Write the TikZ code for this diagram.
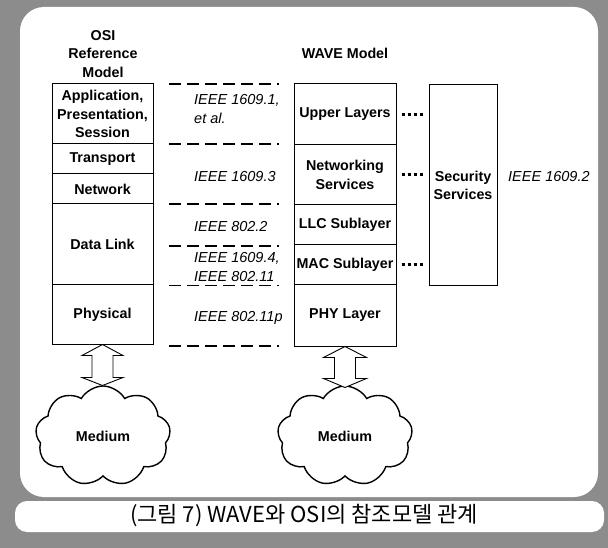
\documentclass[tikz,border=0pt]{standalone}
\usepackage{fontspec}
\setmainfont{Liberation Sans}
\newfontfamily\krfont{Noto Sans CJK KR}
\usetikzlibrary{shapes.symbols}
\begin{document}
\begin{tikzpicture}[x=1pt,y=-1pt,
  lbl/.style={font=\bfseries\fontsize{14.3}{18.5}\selectfont, align=center, inner sep=0pt},
  ieee/.style={font=\itshape\fontsize{14.5}{19}\selectfont, align=left, inner sep=0pt, anchor=west},
  osil/.style={lbl, draw, line width=1pt, minimum width=101pt},
  wavel/.style={lbl, draw, line width=1pt, minimum width=102pt},
  sepline/.style={line width=1.4pt, dash pattern=on 12pt off 6pt},
  dotconn/.style={line width=3pt, dash pattern=on 3pt off 3pt, shorten <=5pt, shorten >=3pt},
  medium/.style={cloud, cloud puffs=9, cloud puff arc=120, draw, line width=1.4pt, minimum width=135pt, minimum height=100pt, lbl},
  dblarrow/.style={draw, line width=0.9pt, fill=white}
]
\useasboundingbox (0,0) rectangle (608,548);
% frame
\fill[black!45] (0,0) rectangle (608,548);
\fill[white, rounded corners=24pt] (20,7) rectangle (598,497);
\fill[white, rounded corners=12pt] (15,501) rectangle (604,532);

% titles
\node[lbl] (osititle) at (103,54) {OSI\\Reference\\Model};
\node[lbl] (wavetitle) at (345,53) {WAVE Model};

% OSI stack
\node[osil, minimum height=60pt] (app) at (102.5,114) {Application,\\Presentation,\\Session};
\node[osil, minimum height=30pt] (trans) at (102.5,159) {Transport};
\node[osil, minimum height=30pt] (net) at (102.5,189) {Network};
\node[osil, minimum height=81pt] (dl) at (102.5,244.5) {Data Link};
\node[osil, minimum height=59pt] (phy) at (102.5,314.5) {Physical};

% WAVE stack
\node[wavel, minimum height=61pt] (upper) at (345,114.5) {Upper Layers};
\node[wavel, minimum height=60pt] (netw) at (345,175) {Networking\\Services};
\node[wavel, minimum height=40pt] (llc) at (345,225) {LLC Sublayer};
\node[wavel, minimum height=40pt] (mac) at (345,265) {MAC Sublayer};
\node[wavel, minimum height=61pt] (wphy) at (345,315.5) {PHY Layer};

% Security
\node[lbl, draw, line width=1pt, minimum width=68pt, minimum height=201pt] (sec) at (463,185.5) {Security\\Services};
\node[ieee] (i16092) at (508,177) {IEEE 1609.2};

% dotted links
\draw[dotconn] (upper.east) -- (sec.west |- upper.east);
\draw[dotconn] (netw.east) -- (sec.west |- netw.east);
\draw[dotconn] (mac.east) -- (sec.west |- mac.east);

% dashed separators
\foreach \yy in {84,144,204,246,285.5,346}
  \draw[sepline] (169,\yy) -- (279,\yy);

% IEEE labels
\node[ieee] (i16091) at (194,109) {IEEE 1609.1,\\et al.};
\node[ieee] (i16093) at (194,177) {IEEE 1609.3};
\node[ieee] (i8022) at (194,227) {IEEE 802.2};
\node[ieee] (i16094) at (194,267) {IEEE 1609.4,\\IEEE 802.11};
\node[ieee] (i80211p) at (194,318) {IEEE 802.11p};

% clouds
\node[medium] (med1) at (103,436) {Medium};
\node[medium] (med2) at (345,436) {Medium};

% double arrows
\draw[dblarrow] (phy.south) -- ++(-20.5,11) -- ++(10,0) -- ++(0,22) -- ++(-10,0) -- ++(20.5,8)
  -- ++(20.5,-8) -- ++(-10,0) -- ++(0,-22) -- ++(10,0) -- cycle;
\draw[dblarrow] (wphy.south) -- ++(-21.5,11) -- ++(11,0) -- ++(0,21) -- ++(-11,0) -- ++(21.5,9)
  -- ++(21.5,-9) -- ++(-11,0) -- ++(0,-21) -- ++(11,0) -- cycle;

% caption
\node[font=\krfont\fontsize{22}{24}\selectfont, inner sep=0pt] (cap) at (304,516) {(그림 7) WAVE와 OSI의 참조모델 관계};
\end{tikzpicture}
\end{document}
